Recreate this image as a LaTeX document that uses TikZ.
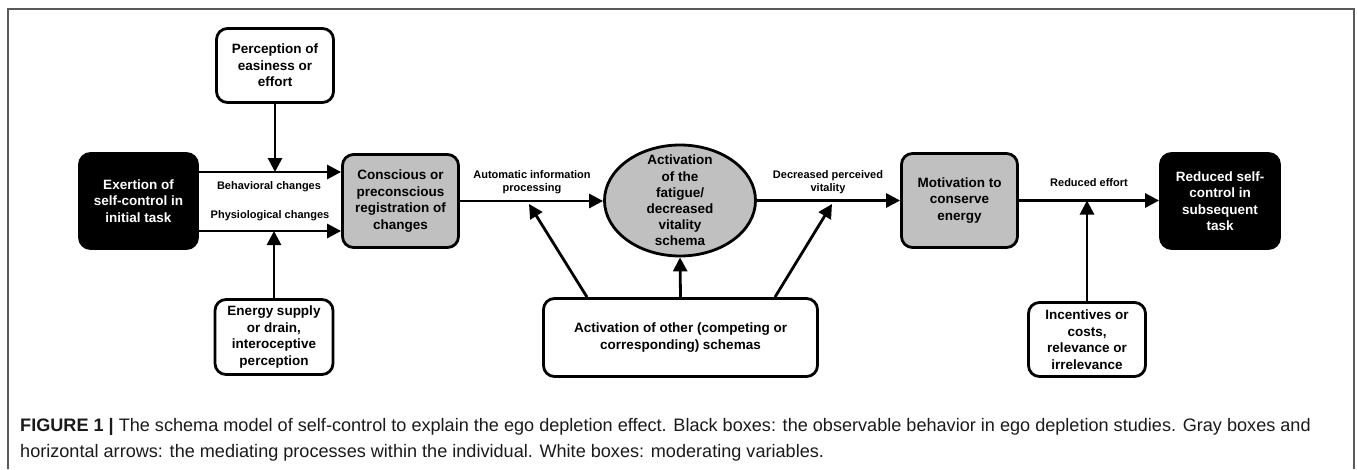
\documentclass[tikz,border=0pt]{standalone}
\usepackage{fontspec}
\setmainfont{Liberation Sans}
\usetikzlibrary{arrows.meta,shapes.geometric,calc}
\definecolor{boxgray}{HTML}{C0C0C0}
\definecolor{framegray}{HTML}{5A5A5A}
\definecolor{captext}{HTML}{1A1A1A}
\begin{document}
\begin{tikzpicture}[x=1pt,y=-1pt,
  box/.style={draw, line width=2.8pt, rounded corners=11pt, align=center, inner sep=0pt,
    font=\fontsize{13.5}{16.5}\selectfont\bfseries},
  blackbox/.style={box, fill=black, text=white},
  graybox/.style={box, fill=boxgray},
  whitebox/.style={box, fill=white},
  ellbox/.style={draw, ellipse, line width=2.8pt, fill=boxgray, inner sep=0pt},
  elltext/.style={align=center, inner sep=0pt, font=\fontsize{13.5}{16.2}\selectfont\bfseries},
  lbl/.style={align=center, inner sep=0pt, font=\fontsize{11}{13}\selectfont\bfseries},
  arr/.style={line width=2.8pt, -{Triangle[length=14pt,width=14pt]}},
  captxt/.style={anchor=base west, inner sep=0pt, text=captext, font=\fontsize{18.1}{22}\selectfont},
]
\useasboundingbox (0,0) rectangle (1357,469);
\draw[framegray, line width=1.5pt] (8,469) -- (8,9) -- (1354,9) -- (1354,469);

% boxes
\node[blackbox, minimum width=118, minimum height=95] (exert) at (138.5,201) {Exertion of\\self-control in\\initial task};
\node[graybox, minimum width=116, minimum height=93] (consc) at (400.5,201) {Conscious or\\preconscious\\registration of\\changes};
\node[whitebox, minimum width=117, minimum height=74] (perc) at (275,65.5) {Perception of\\easiness or\\effort};
\node[whitebox, minimum width=118, minimum height=75] (energy) at (274,337) {Energy supply\\or drain,\\interoceptive\\perception};
\node[ellbox, minimum width=151, minimum height=111] (ell) at (680,200.5) {};
\node[elltext] (elltxt) at (ell.center) {Activation\\of the\\fatigue/\\decreased\\vitality\\schema};
\node[whitebox, minimum width=274, minimum height=78] (other) at (680.5,337.5) {Activation of other (competing or\\corresponding) schemas};
\node[graybox, minimum width=116, minimum height=94] (motiv) at (959.5,200.5) {Motivation to\\conserve\\energy};
\node[blackbox, minimum width=119, minimum height=95] (reduc) at (1220,201) {Reduced self-\\control in\\subsequent\\task};
\node[whitebox, minimum width=117, minimum height=74] (incent) at (1087,339.5) {Incentives or\\costs,\\relevance or\\irrelevance};

% labels
\node[lbl] (lbeh) at (269,187) {Behavioral changes};
\node[lbl] (lphys) at (270,216) {Physiological changes};
\node[lbl] (lauto) at (532,182) {Automatic information\\processing};
\node[lbl] (ldec) at (828,182.5) {Decreased perceived\\vitality};
\node[lbl] (lred) at (1089,183) {Reduced effort};

% helper coordinates
\coordinate (ytop) at (0,172);
\coordinate (ybot) at (0,231);
\coordinate (tipL) at (529,204);
\coordinate (tipR) at (832,204);

% connectors
\draw[arr] (exert.east |- ytop) -- (consc.west |- ytop);
\draw[arr] (exert.east |- ybot) -- (consc.west |- ybot);
\draw[arr] (perc.south) -- (perc.south |- ytop);
\draw[arr] (energy.north) -- (energy.north |- ybot);
\draw[arr] (consc.east) -- (consc.east -| ell.west);
\draw[arr] (ell.east) -- (ell.east -| motiv.west);
\draw[arr] (motiv.east) -- (motiv.east -| reduc.west);
\draw[arr] (incent.north) -- (incent.north |- motiv.east);
\draw[arr] ($(other.north)+(-93.5,0)$) -- (tipL);
\draw[arr] (other.north) -- (ell.south);
\draw[arr] ($(other.north)+(94.5,0)$) -- (tipR);

% caption
\node[captxt] (cap1) at (20,431.5) {\textbf{FIGURE 1 |} The schema model of self-control to explain the ego depletion effect. Black boxes: the observable behavior in ego depletion studies. Gray boxes and};
\node[captxt] (cap2) at (20,457.5) {horizontal arrows: the mediating processes within the individual. White boxes: moderating variables.};
\end{tikzpicture}
\end{document}
